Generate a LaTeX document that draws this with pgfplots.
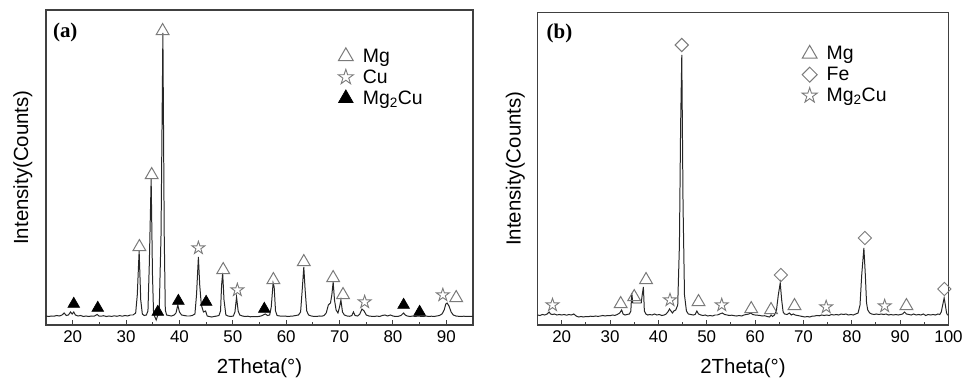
\documentclass[border=0pt]{standalone}
\usepackage{fontspec}
\setmainfont{Liberation Sans}
\newfontfamily\tnr{Liberation Serif}
\usepackage{pgfplots}
\pgfplotsset{compat=1.18}
\pgfdeclareplotmark{ostar}{%
  \pgfpathmoveto{\pgfpointpolar{90}{\pgfplotmarksize}}%
  \pgfpathlineto{\pgfpointpolar{126}{0.382*\pgfplotmarksize}}%
  \pgfpathlineto{\pgfpointpolar{162}{\pgfplotmarksize}}%
  \pgfpathlineto{\pgfpointpolar{198}{0.382*\pgfplotmarksize}}%
  \pgfpathlineto{\pgfpointpolar{234}{\pgfplotmarksize}}%
  \pgfpathlineto{\pgfpointpolar{270}{0.382*\pgfplotmarksize}}%
  \pgfpathlineto{\pgfpointpolar{306}{\pgfplotmarksize}}%
  \pgfpathlineto{\pgfpointpolar{342}{0.382*\pgfplotmarksize}}%
  \pgfpathlineto{\pgfpointpolar{18}{\pgfplotmarksize}}%
  \pgfpathlineto{\pgfpointpolar{54}{0.382*\pgfplotmarksize}}%
  \pgfpathclose
  \pgfusepathqfillstroke}
\definecolor{mkgray}{HTML}{7A7A7A}
\pgfplotsset{
  xrdaxis/.style={
    scale only axis, clip=false,
    axis line style={draw=black!75, line width=1.2pt},
    tick align=inside, xtick pos=lower, ytick=\empty,
    major tick length=5bp, minor tick length=3bp,
    minor x tick num=1,
    every tick/.style={black!75, line width=1pt},
    ymin=0, xmin=15,
    tick label style={font=\fontsize{17}{20}\selectfont},
    /pgf/number format/assume math mode=true,
    xticklabel style={yshift=-2bp},
    label style={font=\fontsize{20.5}{24}\selectfont},
    xlabel={2Theta(°)}, ylabel={Intensity(Counts)},
    xlabel style={at={(axis description cs:0.5,-0.137)}, anchor=center},
    ylabel style={at={(axis description cs:-0.054,0.5)}, anchor=center},
    legend style={draw=none, fill=none, font=\fontsize{19.5}{22}\selectfont, anchor=north west, row sep=2bp, nodes={inner sep=2bp}},
    legend cell align=left,
  },
  mymarks/.style={only marks, legend image code/.code={\path[draw=none,fill=none] (0bp,0bp) -- (23bp,0bp); \draw[##1,mark size=#1] plot coordinates {(8bp,0bp)};}},
  opentri/.style={mymarks=8.5, mark=triangle, mark size=7.5, mark options={draw=mkgray, fill=white, line width=1pt}},
  openstar/.style={mymarks=8, mark=ostar, mark size=6.8, mark options={draw=mkgray, fill=white, line width=0.9pt}},
  filltri/.style={mymarks=8.5, mark=triangle*, mark size=6.8, mark options={draw=black, fill=black, line width=0.6pt}},
  opendia/.style={mymarks=5.3, mark=square, mark size=4.7, mark options={draw=mkgray, fill=white, line width=1pt, rotate=45}},
  spec/.style={black!85, line width=1pt, forget plot},
}
\begin{document}
\begin{tikzpicture}
\path[use as bounding box] (0bp,0bp) rectangle (975bp,383bp);
% ---------------- (a) ----------------
\begin{axis}[xrdaxis, at={(46bp,58bp)}, anchor=south west, width=427bp, height=315bp,
  xmax=95, ymax=315, xtick={20,30,...,90},
  legend style={at={(axis description cs:0.676,0.89)}}]
\addplot[spec] coordinates {
(15,9) (15.5,8.5) (16,9) (16.5,8.8) (17,9.5) (17.5,9) (18,10) (18.4,12) (18.8,9.5) (19.2,10) (19.6,13) (19.9,11) (20.2,13) (20.5,10) (21,9) (21.5,9.5) (22,8.5) (22.5,9) (23,8.5) (23.5,9) (24,8.8) (24.6,10.5) (24.9,9) (25.3,8.8) (25.8,9.3) (26.3,8.5) (26.8,9) (27.3,8.6) (27.8,9.2) (28.3,8.7) (28.8,9.4) (29.3,8.8) (29.8,9.5) (30.3,9) (30.8,10) (31.3,10) (31.8,12) (32.1,30) (32.45,74) (32.75,25) (33.05,11) (33.4,9.5) (33.8,10) (34.1,14) (34.35,60) (34.7,146) (34.95,50) (35.15,12) (35.4,8) (35.65,5) (35.9,9) (36.2,12) (36.55,90) (36.9,292) (37.15,90) (37.35,15) (37.6,10) (38,9.5) (38.5,9) (39,10) (39.35,12) (39.7,20) (40,13) (40.4,10) (40.9,9.5) (41.4,9) (41.9,9) (42.4,9.5) (42.9,11) (43.2,30) (43.55,68) (43.8,40) (44.1,20) (44.5,13) (44.9,14) (45.2,9) (45.6,8.5) (46,8) (46.5,8.5) (47,9) (47.4,9.5) (47.7,14) (47.9,40) (48.1,52) (48.35,25) (48.7,10) (49.1,9) (49.6,8.5) (50.1,9) (50.4,13) (50.7,28) (51,14) (51.3,10) (51.8,9) (52.3,8.5) (52.8,8.8) (53.3,8.2) (53.8,8.5) (54.3,8.3) (54.8,8.5) (55.3,9) (55.7,10) (56.1,11) (56.5,9.5) (56.9,10) (57.2,18) (57.55,42) (57.75,38) (58,14) (58.3,9.5) (58.8,9) (59.3,8.8) (59.8,9) (60.3,8.5) (60.8,8.8) (61.3,9) (61.8,9.5) (62.3,10) (62.7,13) (63,35) (63.3,58) (63.55,35) (63.85,14) (64.2,10) (64.7,9) (65.2,8.6) (65.7,8.5) (66.2,9) (66.7,8.8) (67.1,9.5) (67.5,12) (67.9,20) (68.3,22) (68.55,30) (68.8,43) (69.05,25) (69.35,15) (69.7,12) (70,18) (70.25,25) (70.55,13) (70.9,10) (71.4,9) (71.9,8.7) (72.3,9.5) (72.6,13) (72.9,9.5) (73.4,9) (73.8,11) (74.2,16) (74.6,14) (75,10) (75.5,9) (76,8.7) (76.5,8.5) (77,9) (77.5,8.5) (78,9.5) (78.5,10) (79,9) (79.5,10) (80,9) (80.5,8.5) (81,8.7) (81.5,9.5) (82,12) (82.3,10) (82.7,9) (83.2,8.5) (83.7,9) (84.2,8.5) (84.7,9) (85.2,8.7) (85.7,8.5) (86.2,9) (86.7,8.5) (87.2,8.8) (87.7,8.5) (88.2,9) (88.7,9.5) (89.2,11) (89.6,15) (89.9,21) (90.15,22) (90.5,19) (90.9,13) (91.3,10) (91.8,9) (92.3,8.7) (92.8,8.5) (93.3,8.8) (93.8,8.5) (94.3,8.6) (95,8.5)
};
\addplot[opentri] coordinates {(32.5,78) (34.8,150) (36.85,294) (48.2,55) (57.6,45) (63.3,63) (68.8,47) (70.65,30) (91.85,27)};
\addlegendentry{Mg}
\addplot[openstar] coordinates {(43.55,77) (50.85,35) (74.7,23) (89.35,30)};
\addlegendentry{Cu}
\addplot[filltri] coordinates {(20.2,21) (24.7,17) (35.95,13) (39.8,24) (45,23) (55.9,16) (82,20) (85,13)};
\addlegendentry{Mg\textsubscript{2}Cu}
\node[anchor=west, inner sep=0pt, font=\tnr\bfseries\fontsize{21}{24}\selectfont] at (axis description cs:0.016,0.93) {(a)};
\end{axis}
% ---------------- (b) ----------------
\begin{axis}[xrdaxis, at={(537.5bp,58bp)}, anchor=south west, width=411bp, height=312.5bp,
  xmax=100, ymax=312.5, xtick={20,30,...,100},
  legend style={at={(axis description cs:0.635,0.905)}}]
\addplot[spec] coordinates {
(15,10) (15.5,9.5) (16,10.5) (16.5,10) (17,11) (17.4,13) (17.7,11) (18.1,10.5) (18.5,11) (19,10) (19.5,10.5) (20,10) (20.5,10.5) (21,9.8) (21.5,10.5) (22,10) (22.5,11) (23,9) (23.5,8) (24,8.5) (24.5,8) (25,8.5) (25.5,8.3) (26,8.8) (26.5,8.5) (27,9) (27.5,8.6) (28,9) (28.5,9.5) (29,9) (29.5,9.5) (30,9.3) (30.5,10) (31,9.6) (31.5,10.5) (32,12) (32.4,15) (32.7,11) (33.1,10) (33.5,10.5) (34,11) (34.3,14) (34.5,32) (34.7,22) (36.45,22) (36.65,30) (36.9,38) (37.1,14) (37.4,11) (37.8,10) (38.2,10.5) (38.7,10) (39.2,11) (39.7,10) (40.2,10.5) (40.7,9.5) (41.2,10) (41.6,11) (41.95,13) (42.3,16) (42.6,14) (42.9,12) (43.2,14) (43.6,15) (44,20) (44.35,80) (44.6,200) (44.84,270) (45.1,120) (45.4,30) (45.8,14) (46.2,11) (46.7,10.5) (47.2,10) (47.6,10.5) (47.95,14) (48.3,11) (48.8,10) (49.2,9.5) (49.7,10) (50.2,9) (50.7,9.5) (51.2,9) (51.7,10) (52.2,10) (52.7,11) (53.2,12) (53.7,10.5) (54.2,10) (54.7,9.5) (55.2,9.8) (55.7,9.3) (56.2,9) (56.7,9.5) (57.2,9) (57.7,10) (58.2,10.5) (58.7,11) (59.1,12) (59.5,10.5) (60,10) (60.5,9.8) (61,9.5) (61.5,9) (62,9.3) (62.5,8.5) (63,8) (63.3,10) (63.6,8.5) (64,10) (64.4,14) (64.8,30) (65.2,42) (65.5,25) (65.8,13) (66.1,11) (66.6,10.5) (67.1,12) (67.5,10) (67.9,11) (68.3,10) (68.8,9.5) (69.3,9) (69.8,8.5) (70.3,8) (70.8,8.5) (71.3,8) (71.8,8.8) (72.3,9) (72.8,9.5) (73.3,9.2) (73.8,10) (74.3,9.5) (74.8,10) (75.3,9.5) (75.8,10.5) (76.3,10) (76.8,10.5) (77.3,10) (77.8,11) (78.3,10.5) (78.8,11) (79.3,10) (79.8,10.5) (80.3,10) (80.8,11) (81.3,12) (81.7,20) (82.05,50) (82.5,77) (82.8,50) (83.05,22) (83.3,15) (83.7,12) (84.1,11) (84.6,10.5) (85.1,11) (85.6,10.5) (86.1,11) (86.6,10.5) (87.1,11) (87.6,10) (88.1,10.5) (88.6,10) (89.1,10.5) (89.6,10) (90.1,10.5) (90.5,11) (90.9,13) (91.3,11) (91.8,10.5) (92.3,10) (92.8,11) (93.3,10) (93.8,10.5) (94.3,10) (94.8,11) (95.3,9.5) (95.8,10.5) (96.3,10) (96.8,10.5) (97.3,10) (97.8,11) (98.2,10.5) (98.5,13) (98.8,20) (99.1,27) (99.35,20) (99.6,12) (99.8,10) (100,10)
};
\addplot[opentri] coordinates {(32.2,21) (35,28) (37.45,45) (48.3,23) (59.2,16) (63.3,15) (68.15,19) (91.3,19)};
\addlegendentry{Mg}
\addplot[opendia] coordinates {(44.84,280) (65.34,50) (82.7,87) (99.15,36)};
\addlegendentry{Fe}
\addplot[openstar] coordinates {(18.1,20) (42.4,25) (53.1,20) (74.7,18) (86.8,19)};
\addlegendentry{Mg\textsubscript{2}Cu}
\node[anchor=west, inner sep=0pt, font=\tnr\bfseries\fontsize{21}{24}\selectfont] at (axis description cs:0.022,0.934) {(b)};
\end{axis}
\end{tikzpicture}
\end{document}
